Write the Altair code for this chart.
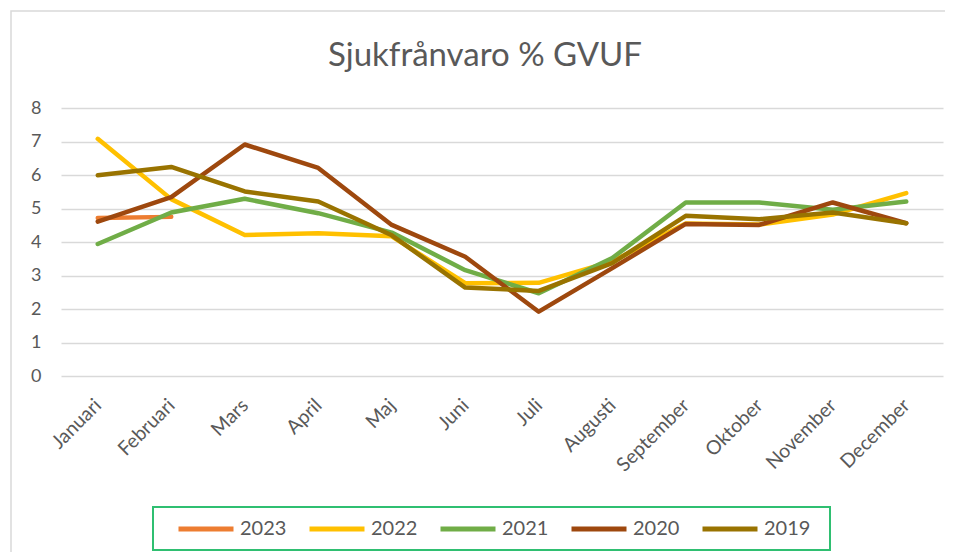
import altair as alt
import pandas as pd

months = ["Januari", "Februari", "Mars", "April", "Maj", "Juni", "Juli",
          "Augusti", "September", "Oktober", "November", "December"]
years = ["2023", "2022", "2021", "2020", "2019"]
colors = ["#ED7D31", "#FFC000", "#70AD47", "#9E480E", "#997300"]

v2023 = [4.72, 4.75]
v2022 = [7.08, 5.28, 4.21, 4.26, 4.17, 2.77, 2.78, 3.42, 4.55, 4.52, 4.82, 5.46]
v2021 = [3.94, 4.88, 5.29, 4.86, 4.28, 3.16, 2.47, 3.52, 5.18, 5.18, 4.96, 5.21]
v2020 = [4.61, 5.34, 6.91, 6.21, 4.51, 3.56, 1.92, 3.22, 4.54, 4.51, 5.18, 4.56]
v2019 = [5.99, 6.24, 5.51, 5.21, 4.20, 2.64, 2.54, 3.37, 4.78, 4.68, 4.88, 4.56]

series = {"2023": v2023, "2022": v2022, "2021": v2021, "2020": v2020, "2019": v2019}

rows = []
for order, y in enumerate(years):
    for i, val in enumerate(series[y]):
        rows.append({"Månad": months[i], "År": y, "Värde": val, "ord": order})
df = pd.DataFrame(rows)

FONT = "Lato"
GREY = "#595959"
W, H = 882, 268

frame = alt.Chart(pd.DataFrame({"a": [0]})).mark_rect(
    fill="transparent", stroke="#D9D9D9", strokeWidth=1.5, clip=False
).encode(
    x=alt.value(-50), x2=alt.value(W + 60),
    y=alt.value(-97), y2=alt.value(H + 260),
)

legend_box = alt.Chart(pd.DataFrame({"a": [0]})).mark_rect(
    fill="transparent", stroke="#2FBF71", strokeWidth=2, clip=False
).encode(
    x=alt.value(92), x2=alt.value(769),
    y=alt.value(399), y2=alt.value(442),
)

lines = alt.Chart(df).mark_line(strokeWidth=4.5, strokeCap="round", strokeJoin="round").encode(
    x=alt.X("Månad:N", sort=months,
            scale=alt.Scale(type="point", padding=0.5),
            axis=alt.Axis(title=None, labelAngle=-45, labelAlign="right",
                          labelBaseline="middle", labelPadding=26,
                          labelFont=FONT, labelFontSize=19.5, labelColor=GREY,
                          ticks=False, domain=False, grid=False)),
    y=alt.Y("Värde:Q", scale=alt.Scale(domain=[0, 8], nice=False),
            axis=alt.Axis(title=None, values=[0, 1, 2, 3, 4, 5, 6, 7, 8],
                          labelFont=FONT, labelFontSize=18, labelColor=GREY,
                          labelPadding=20, ticks=False, domain=False,
                          gridColor="#D9D9D9", gridWidth=1.5)),
    color=alt.Color("År:N", sort=years,
                    scale=alt.Scale(domain=years, range=colors),
                    legend=alt.Legend(title=None, orient="none", legendX=115, legendY=391,
                                      direction="horizontal", columns=5,
                                      symbolType="stroke", symbolSize=3025,
                                      symbolStrokeWidth=5, labelOffset=4,
                                      columnPadding=12, gridAlign="all",
                                      labelFont=FONT, labelFontSize=20,
                                      labelColor=GREY)),
    order=alt.Order("ord:Q"),
)

chart = alt.layer(frame, legend_box, lines).properties(
    width=W, height=H,
    autosize=alt.AutoSizeParams(type="none"),
    padding={"left": 53, "top": 100, "right": 2, "bottom": 176},
    title=alt.TitleParams("Sjukfrånvaro % GVUF", font=FONT, fontSize=33,
                          fontWeight="normal", color=GREY, anchor="middle",
                          frame="group", baseline="alphabetic", offset=-89, dx=-17),
).configure_view(stroke=None)

chart.save("out.html", embed_options={"renderer": "svg", "actions": False})
